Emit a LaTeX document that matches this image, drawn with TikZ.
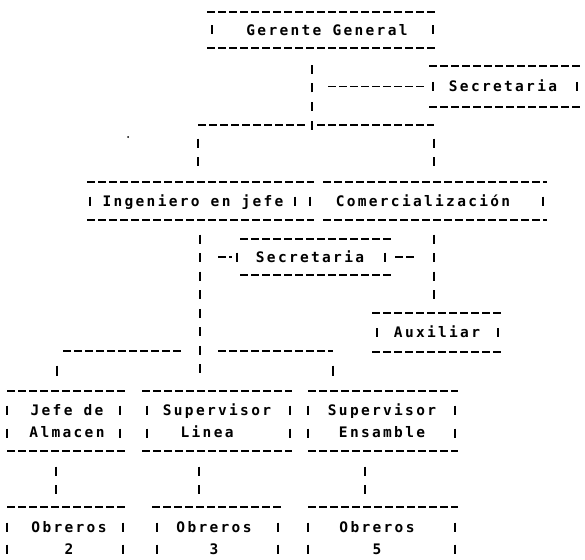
\documentclass[tikz,border=0pt]{standalone}
\usepackage{fontspec}
\newfontfamily\dotfont[LetterSpace=16]{DejaVu Sans Mono}
\usetikzlibrary{calc}
\tikzset{
    hyph/.style={line width=1.8pt, dash pattern=on 7.5pt off 3.5pt},
    bar/.style={line width=1.8pt},
    vconn/.style={line width=1.8pt, dash pattern=on 9pt off 9.57pt},
    orgbox/.style={inner sep=0pt, outer sep=0pt, font={\dotfont\bfseries\fontsize{14.5}{22.5}\selectfont}, text height=10.5pt, text depth=0pt},
    twobox/.style={orgbox, align=center, text height=33pt},
}
\begin{document}
\begin{tikzpicture}[x=1pt, y=-1pt]
        \useasboundingbox (0,0) rectangle (585,559);
        \node[orgbox, minimum height=36pt] (gg) at (327,30) {Gerente General};
        \node[orgbox, minimum height=41pt] (sec) at (503,86.5) {Secretaria};
        \node[orgbox, minimum height=38pt] (ing) at (193,201) {Ingeniero en jefe};
        \node[orgbox, minimum height=38pt] (com) at (423,201) {Comercialización};
        \node[orgbox, minimum height=36pt] (sectwo) at (310,257) {Secretaria};
        \node[orgbox, minimum height=39pt] (aux) at (437,332.5) {Auxiliar};
        \node[twobox, minimum height=60pt] (jefe) at (67,421) {Jefe de\\Almacen};
        \node[twobox, minimum height=60pt] (linea) at (217,421) {Supervisor\\Linea\hphantom{xx}};
        \node[twobox, minimum height=60pt] (ens) at (382,421) {Supervisor\\Ensamble};
        \node[twobox, minimum height=62pt] (obdos) at (69,538) {Obreros\\2};
        \node[twobox, minimum height=62pt] (obtres) at (214,538) {Obreros\\3};
        \node[twobox, minimum height=62pt] (obcinco) at (377,538) {Obreros\\5};
        \foreach \nm/\dl/\dr/\bl/\br in {gg/-120/108/-115/106, sec/-74/79/-70/74, ing/-106/121/-103/102, com/-100/124/-113/120, sectwo/-70/83/-73/75, aux/-65/66/-60/61}{
            \draw[hyph] ($(\nm.north)+(\dl,0)$) -- ($(\nm.north)+(\dr,0)$);
            \draw[hyph] ($(\nm.south)+(\dl,0)$) -- ($(\nm.south)+(\dr,0)$);
            \draw[bar] ($(\nm.center)+(\bl,-4.5)$) -- ++(0,9);
            \draw[bar] ($(\nm.center)+(\br,-4.5)$) -- ++(0,9);
            }
        \foreach \nm/\dl/\dr/\bl/\br in {jefe/-60/61/-60/53, linea/-75/75/-70/73, ens/-74/76/-74/73}{
            \draw[hyph] ($(\nm.north)+(\dl,0)$) -- ($(\nm.north)+(\dr,0)$);
            \draw[hyph] ($(\nm.south)+(\dl,0)$) -- ($(\nm.south)+(\dr,0)$);
            \foreach \r in {-11,12} {
                \draw[bar] ($(\nm.center)+(\bl,\r-4.5)$) -- ++(0,9);
                \draw[bar] ($(\nm.center)+(\br,\r-4.5)$) -- ++(0,9);
                }
            }
        \foreach \nm/\dl/\dr/\bl/\br in {obdos/-62/59/-62/54, obtres/-62/68/-57/64, obcinco/-69/81/-69/78}{
            \draw[hyph] ($(\nm.north)+(\dl,0)$) -- ($(\nm.north)+(\dr,0)$);
            \foreach \r in {-11,11} {
                \draw[bar] ($(\nm.center)+(\bl,\r-4.5)$) -- ++(0,9);
                \draw[bar] ($(\nm.center)+(\br,\r-4.5)$) -- ++(0,9);
                }
            }
        \coordinate (top) at (312,125);
        \coordinate (bl) at (198,125);
        \coordinate (br) at (434,125);
        \coordinate (mid) at (200,351);
        \coordinate (lj) at (57,351);
        \coordinate (rj) at (333,351);
        \draw[vconn] ($(top)+(0,4.5)$) -- ($(top |- gg.south)+(0,12)$);
        \draw[hyph] ($(top |- sec.center)+(16,0)$) -- ($(sec.center)+(-76,0)$);
        \draw[hyph] (bl) -- ($(top)+(-5,0)$);
        \draw[hyph] ($(top)+(5,0)$) -- (br);
        \draw[vconn] ($(bl)+(0,13.5)$) -- ($(bl |- ing.north)+(0,-12)$);
        \draw[vconn] ($(br)+(0,13.5)$) -- ($(br |- com.north)+(0,-12)$);
        \draw[vconn] ($(mid |- ing.south)+(0,14.5)$) -- ($(mid |- linea.north)+(0,-12)$);
        \draw[hyph] ($(mid |- sectwo.center)+(18,0)$) -- ($(sectwo.center)+(-78,0)$);
        \draw[hyph] ($(sectwo.center)+(85,0)$) -- ($(sectwo.center)+(105,0)$);
        \draw[vconn] ($(br |- com.south)+(0,14.5)$) -- ($(br |- aux.north)+(0,-11)$);
        \draw[hyph] ($(lj)+(6,0)$) -- ($(mid)+(-17,0)$);
        \draw[hyph] ($(mid)+(18,0)$) -- (rj);
        \draw[bar] ($(lj)+(0,14.5)$) -- ($(lj |- jefe.north)+(0,-15.5)$);
        \draw[bar] ($(rj)+(0,14.5)$) -- ($(rj |- ens.north)+(0,-15.5)$);
        \foreach \nm/\ob/\dx in {jefe/obdos/-11, linea/obtres/-18, ens/obcinco/-17}{
            \draw[vconn] ($(\nm.south)+(\dx,15.5)$) -- ($(\nm.south |- \ob.north)+(\dx,-12)$);
            }
        \fill (128,137) circle (1pt);
    \end{tikzpicture}
\end{document}
